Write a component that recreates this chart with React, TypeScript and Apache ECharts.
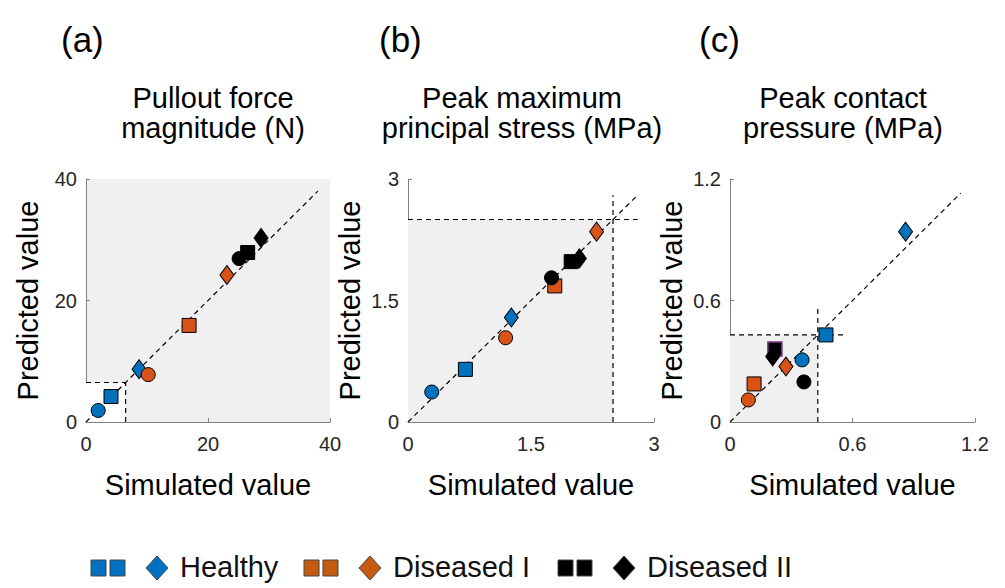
import React, { useEffect, useRef } from "react";
import * as echarts from "echarts";

const FONT = 'Arial, "Liberation Sans", Helvetica, sans-serif';

// groups × shapes (order: Healthy circle, square, diamond; Diseased I ...; Diseased II ...)
const groups = ["Healthy", "Diseased I", "Diseased II"];
const groupColors = ["#0072BD", "#D95319", "#000000"];
const shapes = ["circle", "rect", "diamond"];

const pulloutSim = [2.0, 4.1, 8.7, 10.2, 16.9, 23.1, 25.1, 26.5, 28.7];
const pulloutPred = [1.9, 4.2, 8.7, 7.8, 15.9, 24.2, 26.9, 27.9, 30.3];

const stressSim = [0.29, 0.7, 1.26, 1.19, 1.79, 2.3, 1.75, 1.99, 2.09];
const stressPred = [0.37, 0.65, 1.29, 1.04, 1.68, 2.35, 1.78, 1.98, 2.02];

const contactSim = [0.353, 0.47, 0.86, 0.09, 0.118, 0.274, 0.362, 0.22, 0.209];
const contactPred = [0.307, 0.43, 0.94, 0.109, 0.188, 0.274, 0.198, 0.36, 0.324];

const axisMax = [40, 3, 1.2];
const axisInterval = [20, 1.5, 0.6];
const diagonalEnd = [38, 2.8, 1.13];
const thresholds = [6.5, 2.5, 0.43];
const thresholdLineEnd = [6.5, 2.8, 0.57];

const panelLabels = ["(a)", "(b)", "(c)"];
const panelTitles = [
  "Pullout force\nmagnitude (N)",
  "Peak maximum\nprincipal stress (MPa)",
  "Peak contact\npressure (MPa)",
];

const legendColors = ["#0070C0", "#C55A11", "#000000"];

export default function App() {
  const ref = useRef<HTMLDivElement>(null);

  useEffect(() => {
    if (!ref.current) return;
    const chart = echarts.init(ref.current, null, { renderer: "svg" });

    const sims = [pulloutSim, stressSim, contactSim];
    const preds = [pulloutPred, stressPred, contactPred];

    const grids = [
      { left: 86, top: 179, width: 244, height: 243 },
      { left: 408, top: 179, width: 246, height: 243 },
      { left: 730, top: 179, width: 245, height: 243 },
    ];
    const titleCenters = [213, 522, 843];
    const labelLefts = [61, 379, 699];

    const xAxes: any[] = [];
    const yAxes: any[] = [];
    const series: any[] = [];
    const graphics: any[] = [];

    for (let p = 0; p < 3; p++) {
      const common = {
        gridIndex: p,
        type: "value",
        min: 0,
        max: axisMax[p],
        interval: axisInterval[p],
        axisLine: { show: true, lineStyle: { color: "#808080", width: 1 } },
        axisTick: { show: true, inside: true, length: 4, lineStyle: { color: "#808080" } },
        splitLine: { show: false },
        nameLocation: "middle",
        nameTextStyle: { fontSize: 29, color: "#000", fontFamily: FONT },
      };
      xAxes.push({
        ...common,
        name: "Simulated value",
        nameGap: 48,
        axisLabel: { color: "#262626", fontSize: 20, margin: 12, fontFamily: FONT },
      });
      yAxes.push({
        ...common,
        name: "Predicted value",
        nameGap: 44,
        axisLabel: { color: "#262626", fontSize: 20, margin: 9, fontFamily: FONT },
      });

      const t = thresholds[p];
      const le = thresholdLineEnd[p];
      const dashed = { color: "#000", width: 1.2, type: [5, 4] };

      // diagonal with shading
      series.push({
        type: "line",
        xAxisIndex: p,
        yAxisIndex: p,
        data: [
          [0, 0],
          [diagonalEnd[p], diagonalEnd[p]],
        ],
        symbol: "none",
        lineStyle: dashed,
        z: 2,
        markArea: {
          silent: true,
          itemStyle: { color: p === 0 ? "#ffffff" : "#f0f0f0" },
          data: [[{ coord: [0, 0] }, { coord: [t, t] }]],
          z: 1,
        },
      });
      // threshold lines
      series.push({
        type: "line",
        xAxisIndex: p,
        yAxisIndex: p,
        data: [
          [0, t],
          [le, t],
        ],
        symbol: "none",
        lineStyle: dashed,
        z: 2,
      });
      series.push({
        type: "line",
        xAxisIndex: p,
        yAxisIndex: p,
        data: [
          [t, 0],
          [t, le],
        ],
        symbol: "none",
        lineStyle: dashed,
        z: 2,
      });

      for (let g = 0; g < 3; g++) {
        const data: any[] = [];
        for (let s = 0; s < 3; s++) {
          const i = g * 3 + s;
          const shape = shapes[s];
          const item: any = {
            value: [sims[p][i], preds[p][i]],
            symbol: shape,
            symbolSize: shape === "diamond" ? [14, 19] : shape === "rect" ? 14 : 14,
          };
          if (p === 2 && g === 2 && s === 1) {
            item.itemStyle = { borderColor: "#7E2F8E", borderWidth: 1.5 };
          }
          data.push(item);
        }
        series.push({
          type: "scatter",
          name: groups[g],
          xAxisIndex: p,
          yAxisIndex: p,
          data,
          itemStyle: { color: groupColors[g], borderColor: "#000", borderWidth: 1, opacity: 1 },
          z: 5 + g,
        });
      }

      graphics.push({
        type: "text",
        x: labelLefts[p],
        y: 22,
        style: { text: panelLabels[p], font: `35px ${FONT}`, fill: "#000", verticalAlign: "top" },
      });
      graphics.push({
        type: "text",
        x: titleCenters[p],
        y: 83,
        style: {
          text: panelTitles[p],
          font: `29px ${FONT}`,
          fill: "#000",
          align: "center",
          verticalAlign: "top",
          lineHeight: 30,
        },
      });
    }

    // legend
    const legendStarts = [91, 304, 558];
    for (let g = 0; g < 3; g++) {
      const x0 = legendStarts[g];
      const cy = 568;
      graphics.push({
        type: "rect",
        shape: { x: x0, y: cy - 8, width: 15, height: 16 },
        style: { fill: legendColors[g], stroke: "#444", lineWidth: 1 },
      });
      graphics.push({
        type: "rect",
        shape: { x: x0 + 19, y: cy - 8, width: 15, height: 16 },
        style: { fill: legendColors[g], stroke: "#444", lineWidth: 1 },
      });
      const dx = x0 + 66;
      graphics.push({
        type: "polygon",
        shape: {
          points: [
            [dx, cy - 12],
            [dx + 11, cy],
            [dx, cy + 12],
            [dx - 11, cy],
          ],
        },
        style: { fill: legendColors[g], stroke: "#444", lineWidth: 1 },
      });
      graphics.push({
        type: "text",
        x: x0 + 89,
        y: 567,
        style: { text: groups[g], font: `29px ${FONT}`, fill: "#111", verticalAlign: "middle" },
      });
    }

    chart.setOption({
      animation: false,
      backgroundColor: "#ffffff",
      grid: grids.map((g, i) => ({
        ...g,
        show: true,
        backgroundColor: i === 0 ? "#f0f0f0" : "transparent",
        borderWidth: 0,
        containLabel: false,
      })),
      xAxis: xAxes,
      yAxis: yAxes,
      series,
      graphic: graphics,
    });

    return () => chart.dispose();
  }, []);

  return (
    <div
      ref={ref}
      style={{ position: "fixed", left: 0, top: 0, width: 1005, height: 588 }}
    />
  );
}
